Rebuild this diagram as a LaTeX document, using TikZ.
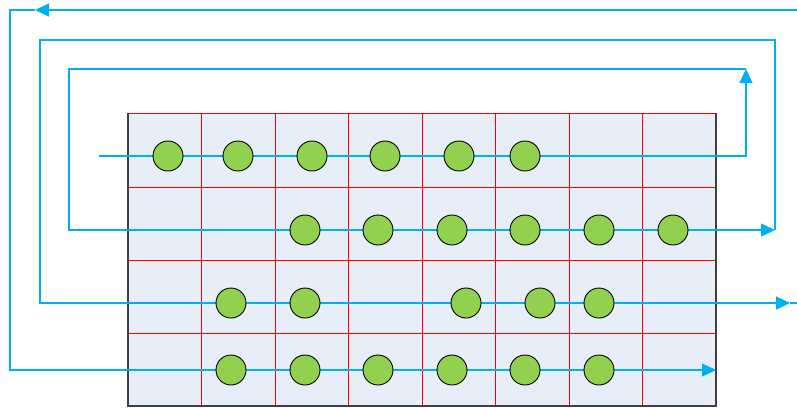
\documentclass[tikz,border=0pt]{standalone}
\usetikzlibrary{arrows.meta}
\definecolor{flowblue}{HTML}{00B0F0}
\definecolor{cellfill}{HTML}{E8EEF7}
\definecolor{dotgreen}{HTML}{92D050}
\definecolor{frame}{HTML}{404040}
\tikzset{
  flow/.style={draw=flowblue, line width=1.3pt},
  tip/.style={-{Triangle[length=14pt,width=13pt]}},
  gridline/.style={draw=red, line width=1pt},
  dot/.style={circle, draw=black, line width=0.9pt, fill=dotgreen, minimum size=30pt, inner sep=0pt},
}
\begin{document}
\begin{tikzpicture}[x=1pt,y=-1pt]
\useasboundingbox (0,0) rectangle (797,407);
% grid
\fill[cellfill] (128,113) rectangle (716,406);
\foreach \yy in {187,260,333} \draw[gridline] (128,\yy) -- (716,\yy);
\foreach \xx in {201,275,348,422,495,569,642} \draw[gridline] (\xx,113) -- (\xx,405);
\draw[gridline] (128,113) -- (716,113);
\draw[draw=frame, line width=1.2pt] (128,113) -- (128,406) -- (716,406) -- (716,113);
% flow lines
\draw[flow, tip] (99,156) -- (746,156) -- (746,69);
\draw[flow, tip] (746,69) -- (69,69) -- (69,230) -- (775,230);
\draw[flow, tip] (775,230) -- (775,40) -- (40,40) -- (40,303) -- (790,303);
\draw[flow] (790,303) -- (797,303);
\draw[flow, tip] (797,10) -- (35,10);
\draw[flow, tip] (35,10) -- (10,10) -- (10,370) -- (716,370);
% dots
\foreach \xx [count=\i] in {168,238,312,385,459,525} \node[dot] (a\i) at (\xx,156) {};
\foreach \xx [count=\i] in {305,378,452,525,599,673} \node[dot] (b\i) at (\xx,230) {};
\foreach \xx [count=\i] in {231,305,466,540,599} \node[dot] (c\i) at (\xx,303) {};
\foreach \xx [count=\i] in {231,305,378,452,525,599} \node[dot] (d\i) at (\xx,370) {};
\end{tikzpicture}
\end{document}
